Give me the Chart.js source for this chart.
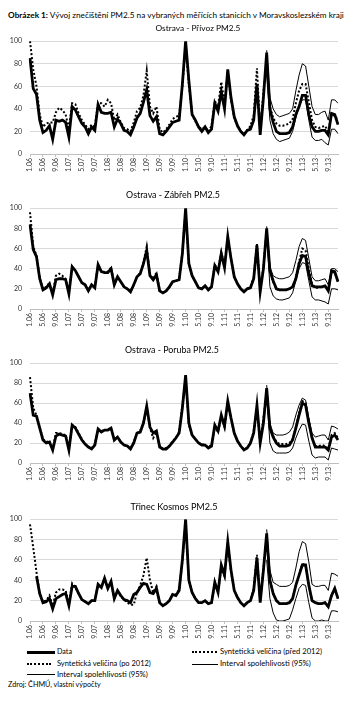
<!DOCTYPE html>
<html><head><meta charset="utf-8">
<script src="https://cdn.jsdelivr.net/npm/chart.js@4.4.1/dist/chart.umd.min.js"></script>
<style>
body{margin:0;background:#fff;width:356px;height:703px;overflow:hidden;position:relative;font-family:Lato,'Open Sans',sans-serif;color:#000}
.t{position:absolute;white-space:nowrap;line-height:1}
.panel{position:absolute;left:0}
.ln{position:absolute;height:0;border-top-color:#000}
</style></head><body>
<script>
// ---- DATA ----
const years = ['06','07','08','09','10','11','12','13'];
const monthNums = [1,2,3,4,5,6,7,8,9,10,11,12];
const categories = [];
years.forEach(y => monthNums.forEach(m => categories.push(m + '.' + y)));
const yTicks = [0,20,40,60,80,100];
const POST_START = 73; // index of 2.12 – first point of post-2012 synthetic & interval series

// Ostrava - Přívoz
const privozData = [
85,58,53,30,19,21,25,13,30,29,30,28,
15,42,39,33,27,24,18,24,21,44,37,36,
36,37,24,31,27,21,20,17,24,32,36,46,
57,34,29,33,18,17,20,24,28,29,30,62,
100,65,35,30,24,20,24,19,22,45,38,55,
40,75,50,33,25,20,17,21,22,30,62,17,
50,90,40,28,20,18,18,18,19,24,35,42,
52,52,35,24,20,20,21,21,17,36,35,26];
const privozPre = [
100,75,60,35,24,27,28,28,37,41,39,35,
22,45,44,36,30,26,22,26,24,45,45,42,
48,45,30,35,28,23,22,20,28,38,41,52,
74,42,36,42,22,19,22,26,31,33,34,60,
97,62,35,29,24,22,24,20,25,47,42,64,
45,72,48,32,25,20,18,21,25,34,76,22,
55,80];
const privozPost = [80,42,32,27,25,25,26,27,31,45,56,62,62,46,30,24,23,24,25,20,35,34,30];
const privozUpper = [92,50,40,35,33,34,35,36,40,56,70,80,78,60,42,35,35,37,38,30,48,48,45];
const privozLower = [70,30,18,13,11,12,13,14,20,32,42,48,48,30,15,12,12,13,10,8,22,22,18];

// Ostrava - Zábřeh
const zabrehData = [
84,59,52,30,19,21,25,14,29,30,30,29,
15,42,38,32,26,24,18,24,21,44,37,36,
36,40,24,32,27,22,20,17,24,32,35,45,
58,33,29,34,18,16,18,22,27,28,29,55,
100,45,33,27,21,20,23,19,22,43,37,55,
41,72,50,32,25,20,17,20,21,30,63,17,
40,80,38,28,20,19,19,19,20,22,30,45,
53,52,35,23,22,22,22,23,18,38,37,27];
const zabrehPre = [
96,62,53,31,20,22,26,15,33,35,33,30,
16,42,38,32,26,24,19,24,22,44,37,37,
37,41,25,32,27,22,20,18,24,32,36,46,
62,34,30,36,18,16,18,22,27,28,29,56,
98,45,33,27,21,20,23,19,22,44,38,56,
42,71,50,32,25,20,17,20,22,31,65,18,
42,78];
const zabrehPost = [78,38,27,20,19,19,19,20,22,31,47,60,58,40,25,21,21,22,23,18,37,36,27];
const zabrehUpper = [82,42,33,31,30,30,31,32,36,48,62,70,68,50,32,28,28,29,30,24,40,40,37];
const zabrehLower = [75,22,13,10,9,9,10,11,16,28,40,46,45,28,12,9,9,8,7,5,20,20,19];

// Ostrava - Poruba
const porubaData = [
70,48,47,35,23,20,21,13,27,29,28,27,
13,38,35,29,23,19,16,14,18,34,31,33,
33,35,23,26,21,18,17,14,20,30,31,40,
57,36,30,32,16,14,14,17,21,25,30,55,
88,40,28,24,20,18,18,15,17,38,32,48,
37,62,45,30,22,17,13,15,20,30,58,20,
40,75,35,26,20,17,17,17,18,23,35,48,
60,58,40,25,16,16,16,16,13,26,28,23];
const porubaPre = [
86,55,48,36,24,21,22,14,30,30,29,28,
14,38,36,30,24,19,16,15,19,34,32,33,
33,35,24,26,21,18,17,15,21,30,32,41,
56,35,25,31,17,14,15,17,22,25,31,58,
85,38,28,24,20,19,18,16,18,36,31,46,
36,60,44,30,22,17,14,15,20,32,55,20,
45,70];
const porubaPost = [70,35,27,21,19,19,19,20,24,36,50,62,60,42,26,17,17,18,17,14,28,30,25];
const porubaUpper = [78,40,30,28,28,28,29,31,36,48,58,65,63,45,30,26,27,28,28,23,37,36,34];
const porubaLower = [68,20,12,10,10,10,10,11,15,25,33,39,38,22,8,5,6,6,6,3,15,14,13];

// Třinec Kosmos
const trinecData = [
null,null,44,27,18,19,22,12,22,24,26,27,
15,34,34,27,21,19,17,20,20,36,33,42,
32,39,22,30,25,21,20,18,26,28,33,37,
36,28,27,32,18,15,17,20,26,25,30,60,
100,40,28,22,18,18,20,17,18,38,28,55,
45,78,50,30,23,18,15,18,20,30,62,18,
50,86,40,27,20,17,17,17,18,22,35,45,
55,55,35,20,18,17,17,18,14,25,32,22];
const trinecPre = [
95,72,48,27,19,20,25,15,28,31,31,30,
17,37,33,27,21,19,17,20,21,35,33,41,
32,38,22,29,24,21,18,16,16,28,35,45,
62,40,28,34,18,15,17,20,26,26,31,58,
98,40,28,22,18,18,20,17,18,36,29,52,
44,75,48,30,23,18,15,18,20,32,65,20,
52,82];
const trinecPost = [82,40,27,20,17,17,17,18,22,35,46,56,55,35,20,18,17,17,18,14,25,32,22];
const trinecUpper = [90,50,38,36,34,34,34,35,38,52,68,78,76,58,36,34,34,35,35,30,47,46,44];
const trinecLower = [60,22,8,1,0,0,1,2,11,22,32,36,35,18,3,0,0,1,0,0,10,10,9];

const panelTitles = ['Ostrava - Přívoz PM2.5','Ostrava - Zábřeh PM2.5','Ostrava - Poruba PM2.5','Třinec Kosmos PM2.5'];
</script>

<div class="t" id="hdr" data-w="336" data-cx="176" data-cy="15"><b>Obrázek 1:</b> Vývoj znečištění PM2.5 na vybraných měřících stanicích v Moravskoslezském kraji</div>

<!-- legend -->
<div class="ln" style="left:27px;top:651px;width:28px;border-top:3px solid #000"></div>
<div class="t" data-w="15" data-l="57" data-cy="652">Data</div>
<div class="ln" style="left:192px;top:651px;width:25px;border-top:2px dotted #000"></div>
<div class="t" data-w="102" data-l="220" data-cy="652">Syntetická veličina (před 2012)</div>
<div class="ln" style="left:27px;top:663px;width:24px;border-top:2px dotted #000"></div>
<div class="t" data-w="94" data-l="57" data-cy="664">Syntetická veličina (po 2012)</div>
<div class="ln" style="left:192px;top:664px;width:26px;border-top:1px solid #000"></div>
<div class="t" data-w="91" data-l="220" data-cy="664">Interval spolehlivosti (95%)</div>
<div class="ln" style="left:27px;top:674px;width:28px;border-top:1px solid #000"></div>
<div class="t" data-w="91" data-l="57" data-cy="675">Interval spolehlivosti (95%)</div>
<div class="t" data-w="93" data-l="8" data-cy="685">Zdroj: ČHMÚ, vlastní výpočty</div>

<script>
Chart.defaults.font.family = "Lato, 'Open Sans', sans-serif";
Chart.defaults.color = '#333';

const pad = arr => categories.map((_, i) => i < POST_START ? null : arr[i - POST_START]);

const layoutDefs = [
  {top:39, bottom:154, tcx:198, tcy:29, tw:85},
  {top:206, bottom:309, tcx:173, tcy:196, tw:94},
  {top:361, bottom:463, tcx:172, tcy:351, tw:94},
  {top:517, bottom:621, tcx:174, tcy:507, tw:87}
];
const series = [
  [privozData, privozPre, privozPost, privozUpper, privozLower],
  [zabrehData, zabrehPre, zabrehPost, zabrehUpper, zabrehLower],
  [porubaData, porubaPre, porubaPost, porubaUpper, porubaLower],
  [trinecData, trinecPre, trinecPost, trinecUpper, trinecLower]
];
const PT = 10, XH = 30;

layoutDefs.forEach((L, k) => {
  const [d, pre, post, up, lo] = series[k];
  const h = (L.bottom - L.top) + PT + XH;
  const div = document.createElement('div');
  div.className = 'panel';
  div.style.top = (L.top - PT) + 'px';
  const cv = document.createElement('canvas');
  cv.width = 356; cv.height = h;
  cv.style.width = '356px'; cv.style.height = h + 'px';
  div.appendChild(cv);
  document.body.appendChild(div);

  const thin = {borderColor:'#000', borderWidth:1, pointRadius:0, fill:false, tension:0};
  const dotted = {borderColor:'#000', borderWidth:2, borderDash:[2,2], pointRadius:0, fill:false, tension:0};
  new Chart(cv.getContext('2d'), {
    type:'line',
    data:{labels:categories, datasets:[
      Object.assign({label:'Interval spolehlivosti (95%) horní', data:pad(up)}, thin),
      Object.assign({label:'Interval spolehlivosti (95%) dolní', data:pad(lo)}, thin),
      {label:'Data', data:d, borderColor:'#000', borderWidth:2.8, pointRadius:0, fill:false, tension:0},
      Object.assign({label:'Syntetická veličina (před 2012)', data:pre}, dotted),
      Object.assign({label:'Syntetická veličina (po 2012)', data:pad(post)}, dotted)
    ]},
    options:{
      responsive:false, animation:false, events:[],
      layout:{padding:{top:PT, left:0, right:18, bottom:0}},
      plugins:{legend:{display:false}, tooltip:{enabled:false}, title:{display:false}},
      scales:{
        x:{type:'category', offset:false,
           grid:{display:true, drawOnChartArea:false, drawTicks:true, tickLength:3, color:'#bfbfbf'},
           border:{display:true, color:'#bfbfbf'},
           ticks:{autoSkip:false, maxRotation:90, minRotation:90, padding:1, font:{size:7}, color:'#333',
                  callback:(v, i) => (i % 4 === 0 ? categories[i] : null)},
           afterFit:s => { s.height = XH; }},
        y:{min:yTicks[0], max:yTicks[yTicks.length-1],
           ticks:{stepSize:20, font:{size:7}, padding:8, color:'#333'},
           grid:{color:'#d9d9d9', drawTicks:false},
           border:{display:false},
           afterFit:s => { s.width = 30; }}
      }
    }
  });

  const t = document.createElement('div');
  t.className = 't';
  t.textContent = panelTitles[k];
  t.dataset.w = L.tw; t.dataset.cx = L.tcx; t.dataset.cy = L.tcy;
  document.body.appendChild(t);
});

// fit text elements to measured widths from reference
document.querySelectorAll('.t').forEach(el => {
  el.style.fontSize = '10px';
  const w = el.getBoundingClientRect().width;
  const fs = 10 * parseFloat(el.dataset.w) / w;
  el.style.fontSize = fs.toFixed(2) + 'px';
  const r = el.getBoundingClientRect();
  const cy = parseFloat(el.dataset.cy);
  el.style.top = (cy - r.height * 0.55).toFixed(1) + 'px';
  if (el.dataset.cx) el.style.left = (parseFloat(el.dataset.cx) - r.width / 2).toFixed(1) + 'px';
  else el.style.left = el.dataset.l + 'px';
});
</script>
</body></html>
